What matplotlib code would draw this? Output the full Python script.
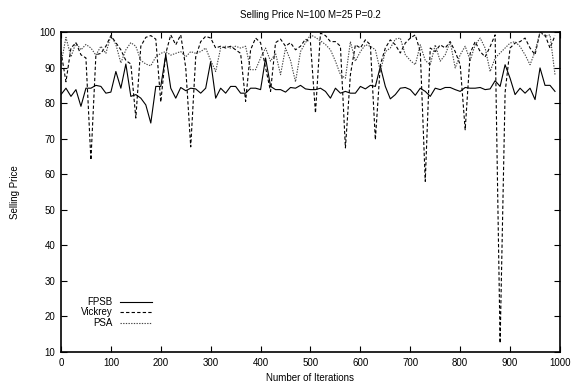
import numpy as np
import matplotlib
matplotlib.use("Agg")
import matplotlib.pyplot as plt

plt.rcParams["font.family"] = ["Liberation Sans", "DejaVu Sans"]

iterations = np.arange(0, 1000, 10)

fpsb = [
    82.4, 84.2, 81.9, 83.8, 79.1, 84.2, 84.2, 85.0, 84.7, 82.8,
    83.1, 88.9, 84.2, 91.0, 81.9, 82.4, 81.4, 79.5, 74.4, 84.7,
    84.7, 93.6, 84.2, 81.4, 84.4, 83.5, 84.2, 84.0, 82.8, 84.2,
    91.7, 81.4, 84.2, 82.8, 84.7, 84.7, 82.8, 82.8, 84.2, 84.2,
    83.8, 92.7, 84.7, 83.8, 83.8, 83.1, 84.4, 84.2, 85.0, 84.0,
    83.8, 83.8, 84.2, 83.3, 81.4, 84.2, 82.8, 83.3, 82.8, 82.8,
    84.7, 84.0, 85.0, 84.7, 90.3, 84.7, 81.2, 82.4, 84.2, 84.4,
    83.8, 82.2, 84.2, 83.3, 81.9, 84.2, 83.8, 84.4, 84.4, 83.8,
    83.3, 84.4, 84.2, 84.2, 84.4, 83.8, 84.0, 86.3, 84.7, 90.8,
    87.0, 82.4, 84.2, 82.8, 84.2, 81.0, 89.9, 85.0, 85.0, 83.3,
]

vickrey = [
    94.5, 86.0, 95.5, 97.0, 93.6, 92.7, 64.0, 93.6, 94.0, 96.0,
    99.0, 97.0, 95.0, 92.0, 91.0, 75.8, 96.0, 98.5, 99.0, 98.0,
    80.3, 94.0, 99.2, 96.4, 99.2, 90.0, 67.7, 93.0, 97.3, 98.8,
    98.3, 95.5, 96.0, 95.5, 96.0, 95.0, 94.0, 80.5, 95.0, 98.3,
    97.0, 90.0, 83.3, 97.0, 98.0, 96.0, 97.0, 95.0, 96.0, 98.0,
    97.0, 77.2, 99.7, 99.0, 97.3, 97.3, 96.0, 67.4, 88.0, 96.4,
    95.5, 97.8, 96.4, 69.7, 90.8, 95.5, 97.8, 96.4, 94.1, 96.9,
    98.3, 99.2, 94.5, 58.0, 95.5, 94.5, 96.4, 95.5, 97.3, 94.5,
    90.8, 72.5, 94.0, 97.3, 94.5, 93.0, 95.9, 99.2, 12.5, 83.0,
    95.5, 96.9, 97.3, 98.3, 95.5, 93.6, 100.0, 99.2, 95.5, 99.0,
]

psa = [
    91.0, 98.5, 93.0, 97.0, 95.0, 96.5, 95.5, 93.5, 96.0, 94.0,
    99.0, 96.5, 91.3, 95.0, 97.0, 96.0, 92.0, 91.0, 90.5, 93.0,
    94.0, 94.5, 93.5, 94.0, 94.5, 93.0, 94.5, 94.0, 94.5, 95.5,
    92.0, 88.9, 95.5, 96.0, 95.5, 96.0, 95.5, 96.0, 89.4, 89.4,
    92.7, 95.5, 91.8, 94.0, 88.0, 95.5, 92.0, 86.0, 94.5, 97.0,
    99.2, 98.5, 97.5, 96.5, 95.0, 91.8, 88.0, 87.0, 97.3, 91.8,
    94.5, 96.4, 96.0, 95.0, 89.0, 94.5, 95.5, 98.0, 98.3, 93.6,
    92.0, 90.8, 96.4, 92.0, 90.8, 96.4, 91.8, 93.6, 97.3, 89.9,
    93.6, 96.0, 92.0, 96.4, 98.3, 95.5, 88.9, 92.7, 94.1, 95.5,
    96.9, 97.3, 95.9, 93.6, 90.8, 94.5, 100.0, 98.8, 99.2, 88.0,
]

x_ticks = np.arange(0, 1001, 100)
y_ticks = np.arange(10, 101, 10)

fig = plt.figure(figsize=(5.72, 3.83), dpi=100)
ax = fig.add_axes([0.1066, 0.0809, 0.8724, 0.8355])

series = [
    ("FPSB", fpsb, "black", "-"),
    ("Vickrey", vickrey, "black", (0, (3, 2))),
    ("PSA", psa, "#444444", (0, (1.2, 1.2))),
]

# gnuplot-style key: label right-aligned, sample line to its right
key_y = [0.156, 0.125, 0.092]
for (name, values, color, style), ky in zip(series, key_y):
    ax.plot(iterations, values, color=color, lw=0.8, linestyle=style)
    ax.text(0.104, ky, name, transform=ax.transAxes, ha="right", va="center",
            fontsize=7)
    ax.plot([0.118, 0.182], [ky, ky], transform=ax.transAxes, color=color,
            lw=0.8, linestyle=style)

ax.set_xlim(0, 1000)
ax.set_ylim(10, 100)
ax.set_xticks(x_ticks)
ax.set_yticks(y_ticks)
ax.tick_params(direction="in", length=4, width=0.8, labelsize=7, top=True, right=True,
               pad=4)
for spine in ax.spines.values():
    spine.set_linewidth(1.2)

ax.set_title("Selling Price N=100 M=25 P=0.2", fontsize=7, pad=10)
ax.set_xlabel("Number of Iterations", fontsize=7, labelpad=4)
ax.set_ylabel("Selling Price", fontsize=7, labelpad=14)

fig.savefig("out.png", dpi=100)
